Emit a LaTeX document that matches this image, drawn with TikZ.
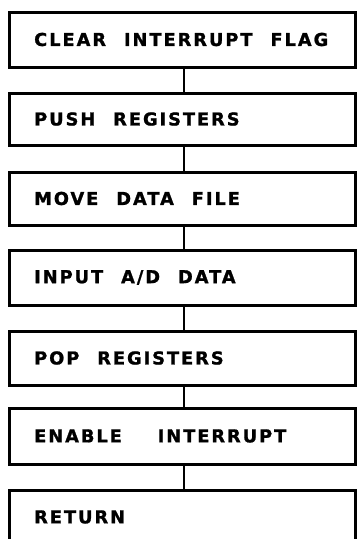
\documentclass[tikz,border=0pt]{standalone}
\usepackage{fontspec}
\setmainfont{DejaVu Sans}
\newfontfamily\stepfont[LetterSpace=11,WordSpace=2.2,FakeBold=1.2]{DejaVu Sans Bold}
\begin{document}
\begin{tikzpicture}[x=1pt,y=-1pt,
  stepbox/.style={draw=black,line width=3pt},
  steplabel/.style={anchor=west,inner sep=0pt,font=\stepfont\fontsize{17.8}{17.8}\selectfont},
  link/.style={draw=black,line width=2.8pt}]
  \useasboundingbox (0,0) rectangle (357,539);
  % flowchart steps: name / top / bottom
  \foreach \n/\t/\b in {
      s1/12/67, s2/93/145, s3/172/225, s4/250/305,
      s5/331/385, s6/408/464, s7/490/560} {
    \draw[stepbox] (9,\t) rectangle (355,\b);
    \coordinate (\n-top) at (184,\t);
    \coordinate (\n-bot) at (184,\b);
  }
  \node[steplabel] (t1) at (34,39.5) {CLEAR INTERRUPT FLAG};
  \node[steplabel] (t2) at (34,119) {PUSH REGISTERS};
  \node[steplabel] (t3) at (34,198.5) {MOVE DATA FILE};
  \node[steplabel] (t4) at (34,277.5) {INPUT A/D DATA};
  \node[steplabel] (t5) at (34,358) {POP REGISTERS};
  \node[steplabel] (t6) at (34,436) {ENABLE \ INTERRUPT};
  \node[steplabel] (t7) at (34,517) {RETURN};
  % connectors between consecutive steps
  \draw[link] (s1-bot) -- (s2-top);
  \draw[link] (s2-bot) -- (s3-top);
  \draw[link] (s3-bot) -- (s4-top);
  \draw[link] (s4-bot) -- (s5-top);
  \draw[link] (s5-bot) -- (s6-top);
  \draw[link] (s6-bot) -- (s7-top);
\end{tikzpicture}
\end{document}
